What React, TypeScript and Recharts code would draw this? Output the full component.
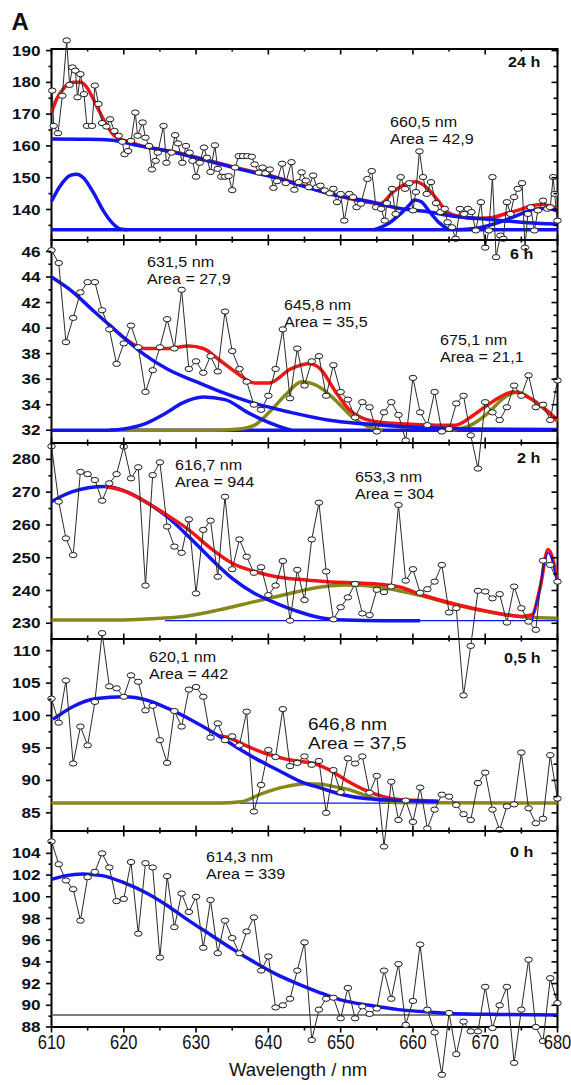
import React from "react";
import { Line, LineChart, ReferenceArea, XAxis, YAxis } from "recharts";

const PAGE_W = 571;
const PAGE_H = 1085;
const X_LEFT = 51.5;
const X_RIGHT = 557.5;
const X_AXIS_H = 1;

const BLUE = "#1414f0";
const RED = "#ee1616";
const OLIVE = "#88881a";
const FONT = "'Liberation Sans', Arial, sans-serif";

const X_TICKS = [610, 615, 620, 625, 630, 635, 640, 645, 650, 655, 660, 665, 670, 675, 680];
const X_LABELS = [610, 620, 630, 640, 650, 660, 670, 680];

// 1 nm sampling used by the 6 h, 2 h, 0,5 h and 0 h spectra
const WL_1NM = [
  610, 611, 612, 613, 614, 615, 616, 617, 618, 619, 620, 621, 622, 623, 624, 625, 626, 627, 628, 629,
  630, 631, 632, 633, 634, 635, 636, 637, 638, 639, 640, 641, 642, 643, 644, 645, 646, 647, 648, 649,
  650, 651, 652, 653, 654, 655, 656, 657, 658, 659, 660, 661, 662, 663, 664, 665, 666, 667, 668, 669,
  670, 671, 672, 673, 674, 675, 676, 677, 678, 679, 680,
];

// ---- 24 h ----
const WL_24H = [
  610.1, 610.3, 610.9, 611.5, 612.1, 612.5, 612.9, 613.3, 613.6, 614.0,
  614.5, 614.9, 615.6, 616.0, 616.5, 617.0, 617.6, 618.1, 618.7, 619.3,
  619.8, 620.1, 620.6, 621.0, 621.6, 621.9, 622.6, 623.0, 623.5, 623.9,
  624.4, 624.7, 625.5, 625.9, 626.6, 627.1, 627.5, 628.1, 628.6, 629.1,
  629.5, 630.0, 630.5, 631.1, 631.5, 632.0, 632.6, 633.0, 633.5, 634.0,
  634.5, 635.0, 635.4, 635.9, 636.5, 637.1, 637.7, 638.1, 638.7, 639.2,
  639.6, 640.2, 640.7, 641.2, 641.9, 642.4, 643.2, 643.6, 644.2, 644.6,
  645.2, 645.6, 646.2, 646.7, 647.2, 647.8, 648.5, 649.0, 649.5, 650.0,
  650.5, 651.2, 651.7, 652.2, 652.8, 653.7, 654.3, 654.9, 655.6, 656.1,
  656.4, 657.1, 657.6, 658.3, 658.9, 659.5, 660.0, 660.4, 660.9, 661.4,
  661.9, 662.5, 663.2, 663.8, 664.4, 664.8, 665.4, 665.9, 666.5, 667.1,
  667.6, 668.1, 668.7, 669.4, 670.0, 670.5, 671.0, 671.5, 672.1, 672.5,
  673.0, 673.5, 674.0, 674.5, 675.1, 675.5, 675.9, 676.3, 676.8, 677.3,
  678.0, 678.6, 679.0, 679.4, 679.6, 680.0,
];
const ABS_24H = [
  177.4, 166.3, 164, 175.8, 193.2, 179.2, 184.7, 183.7, 175.3, 182.6,
  176.3, 166.3, 166.3, 179, 173.2, 167.2, 166.1, 168.4, 164.7, 163.2,
  161.3, 157.4, 158.4, 161.6, 170.5, 163.2, 167.4, 162.6, 160, 152.6,
  155.3, 157.9, 166.3, 154.7, 157.9, 163.4, 160.8, 154.7, 160, 157.9,
  155.3, 150.3, 154.7, 159.5, 156.3, 151.8, 160.2, 152.8, 150.3, 150.3,
  150.5, 146.1, 153.2, 156.8, 156.8, 156.8, 156.6, 154.2, 151.6, 153.2,
  151.4, 152.6, 146.8, 148.9, 154.4, 148.3, 154.9, 146.2, 148.6, 151.7,
  149.1, 147, 150.7, 147, 147.5, 146, 145.1, 146.5, 142.3, 144.9,
  136.5, 144.9, 143.9, 140.7, 141.8, 149.6, 152.1, 140.7, 140.2, 136.5,
  142, 146.5, 138.6, 150.2, 146.5, 148.3, 139.7, 145.5, 158.3, 150.2,
  144.9, 148.6, 142, 139.2, 140.2, 136, 134.4, 130.8, 140.2, 138.6,
  140.2, 139.2, 133.4, 142.3, 128, 133.4, 150.2, 125, 131.8, 130.8,
  142.3, 138.6, 143.9, 146.5, 148.3, 128, 138.6, 140.7, 133.4, 139.7,
  142.8, 140.2, 140.7, 150.2, 144.9, 136.5,
];
const BG_WL_24H = [610, 614, 618, 622, 627, 632, 636, 641, 645, 649, 654, 658, 662, 666, 670, 675, 680];
const BG_24H = [162.2, 162.1, 161.9, 160.1, 157.9, 155.1, 152.7, 150.0, 147.2, 144.6, 142.5, 140.4, 139.3, 137.8, 137.0, 136.0, 135.4];
const BASE_WL_24H = [610, 680];
const BASE_24H = [133.6, 133.6];
const G1_WL_24H = [610, 611.2, 612.6, 613.5, 614.4, 615.8, 617.2, 618.4, 619.5, 620.5];
const G1_24H = [142.6, 147.4, 150.7, 151.1, 150.0, 145.3, 139.5, 135.8, 133.9, 133.6];
const G2_WL_24H = [654.5, 656.7, 658.1, 659.5, 660.2, 661.1, 662.3, 663.7, 665];
const G2_24H = [133.6, 135.7, 138.3, 141.4, 143, 142.5, 139.3, 135.7, 133.6];
const G3_WL_24H = [666, 669, 672, 674.6, 676.6, 678.5, 680];
const G3_24H = [133.6, 134.2, 136, 138.3, 140, 140.3, 139.5];
const FIT_WL_24H = [
  610, 610.7, 611.6, 613, 614, 614.9, 615.8, 616.7, 617.7, 618.6, 619.8, 620.9, 622, 627, 632, 636, 641, 645,
  649, 653, 655.5, 657.3, 659.2, 660.4, 662, 663.4, 664.7, 666.6, 668.4, 670.7, 673, 674.6, 676.6, 678, 680,
];
const FIT_24H = [
  170.5, 174.7, 177.9, 180, 180, 178.4, 174.7, 170.5, 166.3, 163.4, 161.9, 161.3, 160.3, 158.1, 155.3, 152.9, 150.2, 147.4,
  144.8, 142.6, 141.9, 145.6, 148.2, 148.7, 146.7, 143, 139.3, 137.7, 137.2, 137.4, 138.8, 139.8, 141.3, 141.6, 140.2,
];

// ---- 6 h ----
const ABS_6H = [
  46.1, 45.1, 38.9, 40.8, 42.8, 43.6, 43.6, 41.4, 39.9, 37.2, 38.8, 40.2, 38.5, 35.0, 36.7, 38.5, 40.7, 38.4, 43.0, 36.8,
  37.4, 36.5, 37.8, 36.6, 41.3, 38.2, 36.8, 35.8, 34.0, 33.6, 34.7, 36.8, 39.9, 34.5, 38.4, 35.5, 37.4, 37.8, 34.7, 37.1,
  35.0, 34.4, 33.0, 34.2, 33.8, 31.9, 33.4, 34.2, 33.2, 31.2, 36.1, 33.4, 32.4, 35.0, 31.9, 32.1, 34.1, 34.7, 31.6, 29.0,
  34.2, 33.4, 32.8, 33.8, 35.5, 34.7, 36.3, 33.8, 34.0, 32.8, 35.9,
];
const BG_WL_6H = [610, 612.8, 615.9, 617.9, 619.9, 622.9, 626, 630, 633, 638.1, 643.1, 648.2, 653.2, 658.3, 668.4, 680];
const BG_6H = [44, 42.9, 41.3, 40.3, 39.3, 37.9, 36.8, 35.8, 35.1, 34.1, 33.4, 32.8, 32.5, 32.3, 32.1, 32.05];
const BASE_WL_6H = [610, 680];
const BASE_6H = [32, 32];
const G1_WL_6H = [618, 620, 622.9, 626, 628, 631, 634, 637.1, 640.1, 643.1];
const G1_6H = [32, 32.1, 32.5, 33.4, 34.1, 34.6, 34.4, 33.4, 32.6, 32];
const G2_WL_6H = [618, 632, 636, 638.1, 640.1, 642.6, 644.6, 646.7, 649.2, 651.7, 653.7, 655.8];
const G2_6H = [32, 32, 32.1, 32.4, 33.4, 34.9, 35.8, 35.5, 34.4, 33, 32.3, 32];
const G3_WL_6H = [665.5, 668, 670.5, 672.5, 674.4, 676.5, 678.5, 680];
const G3_6H = [32, 32.4, 33.4, 34.5, 35, 34.4, 33.5, 32.7];
const FIT_WL_6H = [
  617.9, 619.9, 622.9, 626, 629, 631, 633, 635.6, 638.1, 640.1, 643.1, 645.7, 647.2, 649.2, 651.2, 653.2, 655.8,
  658.3, 663.3, 665.9, 668.4, 670.9, 673.9, 676.5, 680,
];
const FIT_6H = [
  40.3, 39.3, 38.4, 38.4, 38.6, 38.4, 37.6, 36.5, 35.7, 35.7, 36.8, 37.2, 36.8, 35.1, 33.6, 32.9, 32.6,
  32.5, 32.4, 32.4, 33.2, 34.2, 35, 34.4, 32.8,
];

// ---- 2 h ----
const ABS_2H = [
  284, 267.1, 255.9, 250.8, 276.2, 275.5, 273.7, 267.4, 272.7, 275.5, 283.9, 274.2, 277.6, 241.5, 275.2, 279.1, 259.5, 253.4, 251.5, 261.7,
  239.1, 258.5, 261.3, 244.2, 268.6, 246.5, 255.6, 250.3, 245.4, 247.1, 238.6, 241.5, 249, 230.8, 246.3, 237.1, 255.6, 266.8, 245.8, 231.2,
  234.9, 237.9, 242, 233, 232.5, 240.2, 239.5, 241.2, 266.1, 243, 246.5, 239.3, 240.4, 242.7, 247.8, 233.3, 234.6, 208, 223.1, 239.9,
  239.7, 237.6, 238.9, 230.2, 241.2, 234.6, 230.5, 228, 249.1, 247.8, 242.7,
];
const G1_WL_2H = [610, 612.8, 617.4, 620.4, 623, 626, 629, 632, 635, 638.1, 641.1, 644.1, 647.2, 650.7, 655.8, 661];
const G1_2H = [267.1, 270.1, 271.7, 270.1, 267.1, 262.5, 256.4, 249.8, 243.7, 239.1, 236.1, 233.6, 231.7, 231.0, 230.8, 230.8];
const BASE_WL_2H = [625.7, 680];
const BASE_2H = [230.8, 230.8];
const G2_WL_2H = [610, 620, 625, 628, 633, 638.1, 642.1, 646.2, 650.7, 653.2, 656.3, 660.8, 665.9, 670.9, 676, 680];
const G2_2H = [231, 231, 231.5, 232, 234, 236.6, 238.6, 240.7, 241.7, 241.5, 240.7, 238.6, 235.6, 233.3, 231.8, 231.5];
const G3_WL_2H = [676.5, 677.5, 678.7, 680];
const G3_2H = [231, 240, 251.5, 242];
const FIT_WL_2H = [
  617.4, 620.4, 623, 626, 629, 632, 635, 638.1, 641.1, 644.1, 648.2, 653.2, 656.3, 658.3, 660.8, 665.9, 670.9,
  675, 676.5, 677.6, 678.7, 680,
];
const FIT_2H = [
  271.7, 270.1, 267.1, 263, 258.5, 252.9, 248.3, 245.8, 244.2, 243.4, 242.7, 242.2, 241.7, 241, 239, 235.8, 233.4,
  232.1, 232.6, 241, 252.5, 243,
];

// ---- 0,5 h ----
const ABS_05H = [
  102.6, 98.9, 105.4, 92.6, 98.3, 95.4, 102.1, 112.7, 104.5, 104.2, 102.9, 106.2, 105.2, 100.8, 101.5, 96.2, 92.7, 100.7, 98.3, 104,
  104.4, 102.9, 96.6, 98.8, 96.2, 96.8, 95.4, 100.6, 85.2, 89.3, 94.7, 93.6, 101, 92.2, 92.7, 93.7, 92.4, 93.0, 85, 91.6,
  88.2, 93.4, 92.6, 93.7, 88.1, 90.7, 79.8, 89.8, 83.9, 86.9, 83.6, 88.9, 82.6, 85.5, 87.8, 87.5, 86.2, 84.8, 83.9, 89.6,
  91.2, 85.5, 82.4, 86, 86.3, 94.3, 85.7, 83.4, 84.1, 93.9, 87.2,
];
const G1_WL_05H = [610.2, 613, 616, 620.1, 623.1, 626.1, 629.2, 632.2, 635.2, 638.2, 641.3, 644.3, 647.3, 650.3, 653.4, 655.9, 658.4, 663.5];
const G1_05H = [99.4, 101.4, 102.6, 102.9, 102.4, 101.1, 99.4, 97.5, 95.4, 93.4, 91.6, 89.9, 88.8, 87.8, 87.2, 87, 86.9, 86.7];
const BASE_WL_05H = [636, 680];
const BASE_05H = [86.5, 86.5];
const G2_WL_05H = [610, 633.2, 636.2, 639.2, 642.2, 645.3, 647.3, 649.3, 651.4, 653.4, 655.4, 657.4, 680];
const G2_05H = [86.5, 86.5, 86.7, 88, 89, 89.5, 89.4, 89, 88.5, 87.7, 87, 86.6, 86.5];
const FIT_WL_05H = [633.2, 634.2, 637.2, 640.3, 643.3, 646.3, 648.3, 650.8, 653.4, 655.9, 658.4, 660.9, 663.5];
const FIT_05H = [96.9, 96.7, 95.2, 93.9, 93.1, 92.6, 91.7, 90, 88.5, 87.5, 87, 86.9, 86.8];

// ---- 0 h ----
const ABS_0H = [
  105.1, 103, 101.5, 100.7, 97.8, 101.8, 102.3, 104, 102.7, 99.6, 99.8, 103.2, 96.6, 103.1, 102.7, 94.4, 101.9, 97.2, 100.3, 98.6,
  100, 95.3, 99.7, 94.8, 97.8, 96.2, 94.8, 96.8, 98.1, 93.2, 94.5, 89.8, 90, 90.6, 93.2, 95.8, 86.8, 89.6, 90.6, 90.7,
  88.8, 91.6, 88.8, 89.9, 89.2, 89.7, 93.2, 90.6, 93.8, 88.2, 90.4, 95.6, 89.6, 87.5, 83.6, 89.3, 85.5, 88.5, 87.6, 87.6,
  91.7, 87.9, 90, 91.7, 84.7, 89.6, 94.2, 88, 86.7, 92.5, 90.2,
];
const G1_WL_0H = [610, 612, 614.3, 617, 620, 623, 626, 629, 632, 635, 638, 641, 644, 647, 650, 654, 658, 664, 672, 680];
const G1_0H = [101.6, 101.95, 102.1, 101.95, 101.3, 100.4, 99.2, 97.8, 96.5, 95.2, 94.0, 92.9, 92.0, 91.2, 90.5, 90.0, 89.6, 89.3, 89.15, 89.1];
const BASE_WL_0H = [610, 680];
const BASE_0H = [89.1, 89.1];

type Pt = { x: number; y: number };
type Curve = { xs: number[]; ys: number[]; color: string; width: number };

const toPoints = (xs: number[], ys: number[]): Pt[] => xs.map((x, i) => ({ x, y: ys[i] }));

type PanelProps = {
  top: number;
  bottom: number;
  yMin: number;
  yMax: number;
  majors: number[];
  minors: number[];
  xs: number[];
  ys: number[];
  curves: Curve[];
  showXLabels?: boolean;
};

function Panel({ top, bottom, yMin, yMax, majors, minors, xs, ys, curves, showXLabels }: PanelProps) {
  const yTicks = [...majors, ...minors].sort((a, b) => a - b);
  const data = toPoints(xs, ys);

  // the plot area spans the whole page so points outside a panel spill over
  // into the neighbouring panels, as in the original figure
  const plotBottom = PAGE_H - X_AXIS_H;
  const pxPerUnit = (bottom - top) / (yMax - yMin);
  const domainMax = yMax + top / pxPerUnit;
  const domainMin = yMin - (plotBottom - bottom) / pxPerUnit;

  // left ticks point out, right ticks point in
  const renderYTick = (props: any) => {
    const y = props.y;
    const v = props.payload?.value;
    const major = majors.includes(v);
    const len = major ? 5.5 : 3;
    return (
      <g>
        <line x1={X_LEFT} x2={X_LEFT - len} y1={y} y2={y} stroke="#000" strokeWidth={1.6} />
        <line x1={X_RIGHT} x2={X_RIGHT - (major ? 6 : 4)} y1={y} y2={y} stroke="#000" strokeWidth={1.6} />
        {major && (
          <text
            transform={`translate(40.5,${y}) scale(1.18,1)`}
            textAnchor="end"
            dominantBaseline="central"
            fontFamily={FONT}
            fontWeight="bold"
            fontSize={14.5}
            fill="#111"
          >
            {v}
          </text>
        )}
      </g>
    );
  };

  // top ticks point in; bottom ticks point in, except on the labelled axis
  const renderXTick = (props: any) => {
    const x = props.x;
    const v = props.payload?.value;
    const major = X_LABELS.includes(v);
    const len = major ? 5.5 : 3.5;
    const dir = showXLabels ? 1 : -1;
    return (
      <g>
        <line x1={x} x2={x} y1={bottom} y2={bottom + dir * len} stroke="#000" strokeWidth={1.6} />
        <line x1={x} x2={x} y1={top} y2={top + (major ? 5.5 : 2.5)} stroke="#000" strokeWidth={1.6} />
        {showXLabels && major && (
          <text
            transform={`translate(${x},${bottom + 22}) scale(1,1.18)`}
            textAnchor="middle"
            fontFamily={FONT}
            fontSize={16.5}
            fill="#111"
          >
            {v}
          </text>
        )}
      </g>
    );
  };

  const renderDot = (props: any) => {
    const { cx, cy, index } = props;
    if (cx == null || cy == null) return <g key={`d${index}`} />;
    return <ellipse key={`d${index}`} cx={cx} cy={cy} rx={3.8} ry={2.6} fill="#fff" stroke="#1a1a1a" strokeWidth={1} />;
  };

  return (
    <div style={{ position: "absolute", left: 0, top: 0 }}>
      <LineChart
        width={PAGE_W}
        height={PAGE_H}
        margin={{ top: 0, right: PAGE_W - X_RIGHT, bottom: 0, left: 0 }}
      >
        <XAxis
          type="number"
          dataKey="x"
          domain={[610, 680]}
          ticks={X_TICKS}
          interval={0}
          height={X_AXIS_H}
          tickSize={0}
          tickMargin={0}
          axisLine={false}
          tickLine={false}
          tick={renderXTick}
        />
        <YAxis
          type="number"
          domain={[domainMin, domainMax]}
          ticks={yTicks}
          interval={0}
          width={X_LEFT}
          tickSize={0}
          tickMargin={0}
          axisLine={false}
          tickLine={false}
          tick={renderYTick}
        />
        <ReferenceArea
          x1={610}
          x2={680}
          y1={yMin}
          y2={yMax}
          fill="none"
          fillOpacity={0}
          stroke="#000"
          strokeWidth={2}
        />
        {curves.map((c, i) => (
          <Line
            key={i}
            data={toPoints(c.xs, c.ys)}
            dataKey="y"
            type="monotone"
            stroke={c.color}
            strokeWidth={c.width}
            dot={false}
            activeDot={false}
            isAnimationActive={false}
          />
        ))}
        <Line
          data={data}
          dataKey="y"
          type="linear"
          stroke="#2a2a2a"
          strokeWidth={1}
          dot={renderDot}
          activeDot={false}
          isAnimationActive={false}
        />
      </LineChart>
    </div>
  );
}

const range = (a: number, b: number, s: number) => {
  const out: number[] = [];
  for (let v = a; v <= b + 1e-9; v += s) out.push(Math.round(v * 10) / 10);
  return out;
};

type NoteProps = { left: number; top: number; size?: number; bold?: boolean; lines: string[]; stretch?: number };

function Note({ left, top, size = 14, bold = false, lines, stretch = 1.15 }: NoteProps) {
  return (
    <div
      style={{
        position: "absolute",
        left,
        top,
        fontFamily: FONT,
        fontSize: size,
        lineHeight: `${size * 1.18}px`,
        fontWeight: bold ? "bold" : "normal",
        color: "#111",
        whiteSpace: "pre",
        transform: `scaleX(${stretch})`,
        transformOrigin: "0 0",
        pointerEvents: "none",
      }}
    >
      {lines.map((l, i) => (
        <div key={i}>{l}</div>
      ))}
    </div>
  );
}

export default function App() {
  return (
    <div style={{ position: "absolute", left: 0, top: 0, width: PAGE_W, height: PAGE_H, background: "#fff", overflow: "hidden" }}>
      <Panel
        top={49}
        bottom={240}
        yMin={130.4}
        yMax={190.5}
        majors={range(140, 190, 10)}
        minors={range(135, 185, 10)}
        xs={WL_24H}
        ys={ABS_24H}
        curves={[
          { xs: FIT_WL_24H, ys: FIT_24H, color: RED, width: 3.5 },
          { xs: BASE_WL_24H, ys: BASE_24H, color: BLUE, width: 3.5 },
          { xs: BG_WL_24H, ys: BG_24H, color: BLUE, width: 3.5 },
          { xs: G1_WL_24H, ys: G1_24H, color: BLUE, width: 3.5 },
          { xs: G2_WL_24H, ys: G2_24H, color: BLUE, width: 3.5 },
          { xs: G3_WL_24H, ys: G3_24H, color: BLUE, width: 3.5 },
        ]}
      />
      <Panel
        top={240}
        bottom={443}
        yMin={31.0}
        yMax={46.9}
        majors={range(32, 46, 2)}
        minors={range(33, 45, 2)}
        xs={WL_1NM}
        ys={ABS_6H}
        curves={[
          { xs: BASE_WL_6H, ys: BASE_6H, color: BLUE, width: 3.5 },
          { xs: G2_WL_6H, ys: G2_6H, color: OLIVE, width: 3.5 },
          { xs: G3_WL_6H, ys: G3_6H, color: OLIVE, width: 3.5 },
          { xs: G1_WL_6H, ys: G1_6H, color: BLUE, width: 3.5 },
          { xs: FIT_WL_6H, ys: FIT_6H, color: RED, width: 3.5 },
          { xs: BG_WL_6H, ys: BG_6H, color: BLUE, width: 3.5 },
        ]}
      />
      <Panel
        top={443}
        bottom={639}
        yMin={225.2}
        yMax={285}
        majors={range(230, 280, 10)}
        minors={range(235, 275, 10)}
        xs={WL_1NM}
        ys={ABS_2H}
        curves={[
          { xs: BASE_WL_2H, ys: BASE_2H, color: BLUE, width: 1.3 },
          { xs: G2_WL_2H, ys: G2_2H, color: OLIVE, width: 3.5 },
          { xs: G1_WL_2H, ys: G1_2H, color: BLUE, width: 3.5 },
          { xs: FIT_WL_2H, ys: FIT_2H, color: RED, width: 3.5 },
          { xs: G3_WL_2H, ys: G3_2H, color: BLUE, width: 1.5 },
        ]}
      />
      <Panel
        top={639}
        bottom={831}
        yMin={82.2}
        yMax={111.8}
        majors={range(85, 110, 5)}
        minors={range(87.5, 107.5, 5)}
        xs={WL_1NM}
        ys={ABS_05H}
        curves={[
          { xs: BASE_WL_05H, ys: BASE_05H, color: BLUE, width: 1.2 },
          { xs: G2_WL_05H, ys: G2_05H, color: OLIVE, width: 3.5 },
          { xs: FIT_WL_05H, ys: FIT_05H, color: RED, width: 3.5 },
          { xs: G1_WL_05H, ys: G1_05H, color: BLUE, width: 3.5 },
        ]}
      />
      <Panel
        top={831}
        bottom={1027}
        yMin={88}
        yMax={106.06}
        majors={range(88, 104, 2)}
        minors={range(89, 105, 2)}
        xs={WL_1NM}
        ys={ABS_0H}
        showXLabels
        curves={[
          { xs: BASE_WL_0H, ys: BASE_0H, color: "#555", width: 1.5 },
          { xs: G1_WL_0H, ys: G1_0H, color: BLUE, width: 3.5 },
        ]}
      />

      <Note left={11.5} top={8} size={24} bold stretch={1} lines={["A"]} />
      <Note left={508} top={54} bold lines={["24 h"]} />
      <Note left={390} top={114} lines={["660,5 nm", "Area = 42,9"]} />

      <Note left={510} top={246} bold lines={["6 h"]} />
      <Note left={147} top={254} lines={["631,5 nm", "Area = 27,9"]} />
      <Note left={284} top={297} lines={["645,8 nm", "Area = 35,5"]} />
      <Note left={440} top={332} lines={["675,1 nm", "Area = 21,1"]} />

      <Note left={517} top={450} bold lines={["2 h"]} />
      <Note left={175} top={457} lines={["616,7 nm", "Area = 944"]} />
      <Note left={355} top={469} lines={["653,3 nm", "Area = 304"]} />

      <Note left={504} top={650} bold lines={["0,5 h"]} />
      <Note left={149} top={649} lines={["620,1 nm", "Area = 442"]} />
      <Note left={308} top={715} size={16.5} lines={["646,8 nm", "Area = 37,5"]} />

      <Note left={510} top={844} bold lines={["0 h"]} />
      <Note left={206} top={849} lines={["614,3 nm", "Area = 339"]} />

      <Note left={229} top={1059} size={18.5} stretch={1} lines={["Wavelength / nm"]} />
    </div>
  );
}
